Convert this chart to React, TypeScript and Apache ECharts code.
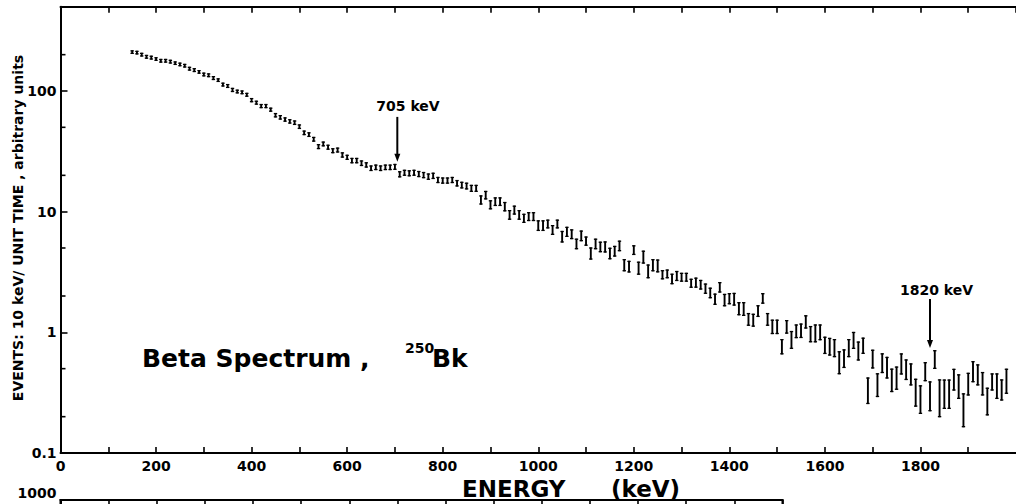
import React, { useEffect, useRef } from 'react';
import * as echarts from 'echarts';

// Energy bins (keV), one point per 10 keV channel
const energies = [
  150, 160, 170, 180, 190,
  200, 210, 220, 230, 240, 250, 260, 270, 280, 290,
  300, 310, 320, 330, 340, 350, 360, 370, 380, 390,
  400, 410, 420, 430, 440, 450, 460, 470, 480, 490,
  500, 510, 520, 530, 540, 550, 560, 570, 580, 590,
  600, 610, 620, 630, 640, 650, 660, 670, 680, 690,
  700, 710, 720, 730, 740, 750, 760, 770, 780, 790,
  800, 810, 820, 830, 840, 850, 860, 870, 880, 890,
  900, 910, 920, 930, 940, 950, 960, 970, 980, 990,
  1000, 1010, 1020, 1030, 1040, 1050, 1060, 1070, 1080, 1090,
  1100, 1110, 1120, 1130, 1140, 1150, 1160, 1170, 1180, 1190,
  1200, 1210, 1220, 1230, 1240, 1250, 1260, 1270, 1280, 1290,
  1300, 1310, 1320, 1330, 1340, 1350, 1360, 1370, 1380, 1390,
  1400, 1410, 1420, 1430, 1440, 1450, 1460, 1470, 1480, 1490,
  1500, 1510, 1520, 1530, 1540, 1550, 1560, 1570, 1580, 1590,
  1600, 1610, 1620, 1630, 1640, 1650, 1660, 1670, 1680, 1690,
  1700, 1710, 1720, 1730, 1740, 1750, 1760, 1770, 1780, 1790,
  1800, 1810, 1820, 1830, 1840, 1850, 1860, 1870, 1880, 1890,
  1900, 1910, 1920, 1930, 1940, 1950, 1960, 1970, 1980,
];

// Events per 10 keV per unit time (arbitrary units)
const counts = [
  210, 208, 200, 192, 189,
  184, 178, 178, 175, 170, 166, 162, 153, 149, 144,
  137, 135, 128, 123, 113, 110, 102, 99, 97.5, 93,
  84, 80, 75, 75, 70, 63, 60.5, 58, 56, 54.6,
  50.6, 45, 43.5, 39.8, 34.6, 36.4, 34.2, 32, 32.4, 29.5,
  28.2, 26.5, 26.5, 25.2, 24.4, 22.9, 23.3, 22.9, 23.3, 23.3,
  23.5, 20.4, 21.0, 20.8, 21.0, 20.5, 20.1, 19.5, 19.8, 18.3,
  18.1, 18.1, 18.3, 17.2, 16.6, 16.3, 15.6, 15.6, 12.5, 13.7,
  11.4, 12.1, 12.1, 11.0, 9.4, 10.3, 9.4, 8.8, 9.1, 9.1,
  7.66, 7.66, 7.9, 7.05, 7.9, 6.2, 6.8, 6.5, 5.4, 6.3,
  5.7, 4.5, 5.4, 5.1, 5.1, 4.5, 4.7, 5.2, 3.6, 3.5,
  4.8, 3.4, 4.2, 3.2, 3.6, 3.55, 3.0, 3.05, 2.77, 2.93,
  2.86, 2.86, 2.55, 2.58, 2.48, 2.3, 2.12, 1.88, 2.36, 1.85,
  1.9, 1.88, 1.57, 1.56, 1.28, 1.26, 1.5, 1.91, 1.28, 1.11,
  1.11, 0.76, 1.11, 0.865, 1.02, 1.03, 1.22, 0.966, 0.98, 1.0,
  0.78, 0.76, 0.74, 0.56, 0.605, 0.74, 0.857, 0.70, 0.774, 0.328,
  0.60, 0.365, 0.555, 0.509, 0.40, 0.417, 0.547, 0.49, 0.448, 0.316,
  0.277, 0.472, 0.295, 0.595, 0.284, 0.307, 0.307, 0.405, 0.355, 0.226,
  0.372, 0.472, 0.444, 0.375, 0.267, 0.388, 0.358, 0.333, 0.393,
];

// Statistical uncertainty (upper extent of each error bar)
const errors = [
  5, 5, 5, 5, 5,
  4.5, 4.5, 4.5, 4.5, 4, 4, 4, 4, 4, 3.5,
  3.5, 3.5, 3.5, 3, 3, 3, 3, 2.5, 2.5, 2.5,
  2.5, 2.2, 2.2, 2.2, 2, 2, 2, 1.8, 1.8, 1.8,
  1.7, 1.5, 1.5, 1.4, 1.3, 1.3, 1.3, 1.2, 1.2, 1.2,
  1.1, 1.1, 1.1, 1.1, 1.0, 1.0, 1.0, 1.0, 1.0, 1.0,
  1.1, 1.0, 1.0, 1.0, 1.0, 1.0, 1.0, 1.0, 1.0, 0.9,
  0.9, 0.9, 0.9, 0.9, 0.9, 0.9, 0.9, 0.9, 1.0, 1.0,
  0.9, 0.9, 0.9, 0.9, 0.8, 0.8, 0.8, 0.7, 0.7, 0.7,
  0.73, 0.73, 0.6, 0.61, 0.6, 0.65, 0.61, 0.56, 0.51, 0.6,
  0.46, 0.5, 0.51, 0.48, 0.51, 0.47, 0.45, 0.49, 0.4, 0.37,
  0.41, 0.41, 0.5, 0.41, 0.4, 0.42, 0.24, 0.23, 0.26, 0.26,
  0.22, 0.22, 0.2, 0.23, 0.21, 0.21, 0.2, 0.19, 0.22, 0.21,
  0.19, 0.22, 0.19, 0.2, 0.15, 0.15, 0.16, 0.18, 0.15, 0.15,
  0.15, 0.11, 0.14, 0.15, 0.13, 0.14, 0.15, 0.15, 0.17, 0.15,
  0.13, 0.13, 0.13, 0.13, 0.11, 0.13, 0.14, 0.13, 0.12, 0.09,
  0.11, 0.088, 0.108, 0.11, 0.095, 0.098, 0.115, 0.1, 0.099, 0.092,
  0.083, 0.088, 0.093, 0.109, 0.119, 0.095, 0.095, 0.088, 0.089, 0.083,
  0.085, 0.099, 0.093, 0.089, 0.077, 0.064, 0.094, 0.07, 0.101,
];

// Axis tick labels
const xTickValues = [0, 200, 400, 600, 800, 1000, 1200, 1400, 1600, 1800];
const xTickLabels = ['0', '200', '400', '600', '800', '1000', '1200', '1400', '1600', '1800'];
const yTickLabels = ['0.1', '1', '10', '100'];
const yMinorTicks = [0.2, 0.5, 2, 5, 20, 50, 200];
const lowerPanelTopLabel = '1000';

// Annotated lines: energy, arrow start value, arrow tip value
const markerEnergies = [705, 1820];
const markerTop = [61, 1.89];
const markerTip = [25.9, 0.74];
const markerLabels = ['705 keV', '1820 keV'];

const yTitle = 'EVENTS: 10 keV/ UNIT TIME , arbitrary units';
const xTitleA = 'ENERGY';
const xTitleB = '(keV)';
const plotTitle = 'Beta Spectrum ,';
const isotopeMass = '250';
const isotopeSymbol = 'Bk';

const FONT = '"DejaVu Sans"';

export default function App() {
  const ref = useRef<HTMLDivElement>(null);

  useEffect(() => {
    if (!ref.current) return;
    const chart = echarts.init(ref.current, null, { renderer: 'svg' });

    const spectrum = energies.map((e, i) => [e, counts[i], errors[i]]);
    const minor = yMinorTicks.map((v) => [0, v]);
    const markers = markerEnergies.map((e, i) => [e, markerTop[i], markerTip[i]]);

    const axisLineStyle = { color: '#000', width: 2 };
    const tickStyle = { color: '#000', width: 1.6 };
    const labelStyle = {
      color: '#000',
      fontFamily: FONT,
      fontWeight: 'bold' as const,
      fontSize: 14,
    };

    const yFormatter = (v: number) => {
      const l = Math.log10(v);
      const r = Math.round(l);
      if (Math.abs(l - r) < 1e-6 && r >= -1 && r <= 2) return yTickLabels[r + 1];
      return '';
    };
    const xFormatter = (v: number) => {
      const i = xTickValues.indexOf(v);
      return i >= 0 ? xTickLabels[i] : '';
    };

    const option: any = {
      animation: false,
      backgroundColor: '#ffffff',
      grid: [
        { left: 60.5, top: 6.65, width: 962.5, height: 446.35 },
        {
          left: 60.5,
          top: 500,
          width: 722,
          height: 300,
          show: true,
          borderColor: '#000',
          borderWidth: 2,
          backgroundColor: 'transparent',
        },
      ],
      xAxis: [
        {
          gridIndex: 0,
          type: 'value',
          position: 'bottom',
          min: 0,
          max: 2000,
          interval: 100,
          axisLine: { show: true, onZero: false, lineStyle: axisLineStyle },
          axisTick: { show: true, inside: true, length: 6, lineStyle: tickStyle },
          axisLabel: { ...labelStyle, margin: 6, lineHeight: 14, formatter: xFormatter, showMaxLabel: false },
          splitLine: { show: false },
        },
        {
          gridIndex: 0,
          type: 'value',
          position: 'top',
          min: 0,
          max: 2000,
          interval: 100,
          axisLine: { show: true, onZero: false, lineStyle: axisLineStyle },
          axisTick: { show: true, inside: true, length: 6, lineStyle: tickStyle },
          axisLabel: { show: false },
          splitLine: { show: false },
        },
        {
          gridIndex: 1,
          type: 'value',
          position: 'top',
          min: 0,
          max: 1500,
          interval: 100,
          axisLine: { show: true, onZero: false, lineStyle: axisLineStyle },
          axisTick: { show: true, inside: true, length: 6, lineStyle: tickStyle },
          axisLabel: { show: false },
          splitLine: { show: false },
        },
      ],
      yAxis: [
        {
          gridIndex: 0,
          type: 'log',
          logBase: 10,
          min: 0.1,
          max: 500,
          axisLine: { show: true, onZero: false, lineStyle: axisLineStyle },
          axisTick: { show: true, inside: true, length: 7, lineStyle: tickStyle },
          axisLabel: { ...labelStyle, margin: 4, formatter: yFormatter },
          splitLine: { show: false },
        },
        {
          gridIndex: 1,
          type: 'log',
          logBase: 10,
          min: 1,
          max: 1000,
          axisLine: { show: true, onZero: false, lineStyle: axisLineStyle },
          axisTick: { show: true, inside: true, length: 7, lineStyle: tickStyle },
          axisLabel: {
            ...labelStyle,
            margin: 4,
            lineHeight: 14,
            verticalAlign: 'bottom',
            formatter: (v: number) => (Math.abs(v - 1000) < 1e-6 ? lowerPanelTopLabel : ''),
          },
          splitLine: { show: false },
        },
      ],
      series: [
        {
          type: 'custom',
          name: 'spectrum',
          xAxisIndex: 0,
          yAxisIndex: 0,
          data: spectrum,
          encode: { x: 0, y: 1 },
          renderItem: (_params: any, api: any) => {
            const e = api.value(0);
            const v = api.value(1);
            const d = api.value(2);
            const top = api.coord([e, v + d]);
            const bot = api.coord([e, (v * v) / (v + d)]);
            const x = top[0];
            const style = { stroke: '#000', lineWidth: 1.9 };
            const cap = { stroke: '#000', lineWidth: 1.3 };
            return {
              type: 'group',
              children: [
                { type: 'line', shape: { x1: x, y1: top[1] - 0.6, x2: x, y2: bot[1] + 0.6 }, style },
                { type: 'line', shape: { x1: x - 1.7, y1: top[1], x2: x + 1.7, y2: top[1] }, style: cap },
                { type: 'line', shape: { x1: x - 1.7, y1: bot[1], x2: x + 1.7, y2: bot[1] }, style: cap },
              ],
            };
          },
        },
        {
          type: 'custom',
          name: 'minorTicks',
          xAxisIndex: 0,
          yAxisIndex: 0,
          data: minor,
          encode: { x: 0, y: 1 },
          renderItem: (_params: any, api: any) => {
            const p = api.coord([api.value(0), api.value(1)]);
            return {
              type: 'line',
              shape: { x1: p[0], y1: p[1], x2: p[0] + 5, y2: p[1] },
              style: { stroke: '#000', lineWidth: 1.6 },
            };
          },
        },
        {
          type: 'custom',
          name: 'markers',
          xAxisIndex: 0,
          yAxisIndex: 0,
          data: markers,
          encode: { x: 0, y: 1 },
          renderItem: (_params: any, api: any) => {
            const e = api.value(0);
            const a = api.coord([e, api.value(1)]);
            const b = api.coord([e, api.value(2)]);
            return {
              type: 'group',
              children: [
                {
                  type: 'line',
                  shape: { x1: a[0], y1: a[1], x2: b[0], y2: b[1] - 5 },
                  style: { stroke: '#000', lineWidth: 2 },
                },
                {
                  type: 'polygon',
                  shape: { points: [[b[0] - 3, b[1] - 8], [b[0] + 3, b[1] - 8], [b[0], b[1]]] },
                  style: { fill: '#000' },
                },
              ],
            };
          },
        },
      ],
      graphic: [
        {
          type: 'text',
          x: 18.3,
          y: 228,
          rotation: Math.PI / 2,
          style: {
            text: yTitle,
            font: `bold 14px ${FONT}`,
            fill: '#000',
            textAlign: 'center',
            textVerticalAlign: 'middle',
          },
        },
        {
          type: 'text',
          x: 462,
          y: 489,
          style: { text: xTitleA, font: `bold 23px ${FONT}`, fill: '#000', textAlign: 'left', textVerticalAlign: 'middle' },
        },
        {
          type: 'text',
          x: 611,
          y: 489,
          style: { text: xTitleB, font: `bold 23px ${FONT}`, fill: '#000', textAlign: 'left', textVerticalAlign: 'middle' },
        },
        {
          type: 'text',
          x: 142,
          y: 358,
          style: { text: plotTitle, font: `bold 25px ${FONT}`, fill: '#000', textAlign: 'left', textVerticalAlign: 'middle' },
        },
        {
          type: 'text',
          x: 405,
          y: 347.5,
          style: { text: isotopeMass, font: `bold 14px ${FONT}`, fill: '#000', textAlign: 'left', textVerticalAlign: 'middle' },
        },
        {
          type: 'text',
          x: 432,
          y: 358,
          style: { text: isotopeSymbol, font: `bold 25px ${FONT}`, fill: '#000', textAlign: 'left', textVerticalAlign: 'middle' },
        },
        {
          type: 'text',
          x: 408,
          y: 106,
          style: { text: markerLabels[0], font: `bold 14px ${FONT}`, fill: '#000', textAlign: 'center', textVerticalAlign: 'middle' },
        },
        {
          type: 'text',
          x: 936.5,
          y: 290,
          style: { text: markerLabels[1], font: `bold 14px ${FONT}`, fill: '#000', textAlign: 'center', textVerticalAlign: 'middle' },
        },
      ],
    };

    chart.setOption(option);
    return () => chart.dispose();
  }, []);

  return (
    <div
      ref={ref}
      style={{ position: 'absolute', left: 0, top: 0, width: 1016, height: 504, background: '#fff' }}
    />
  );
}
